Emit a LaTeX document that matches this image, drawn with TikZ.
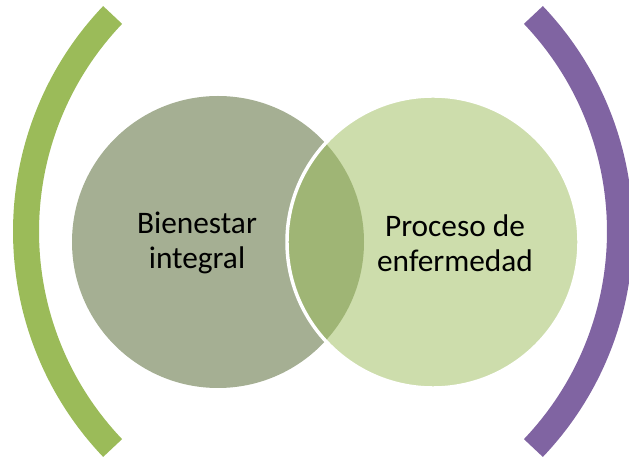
\documentclass[tikz,border=0pt]{standalone}
\usepackage{fontspec}
\setmainfont{Carlito}
\definecolor{leftfill}{HTML}{A5AF93}
\definecolor{rightfill}{HTML}{9BBB59}
\definecolor{arcgreen}{HTML}{9BBB59}
\definecolor{arcpurple}{HTML}{8064A2}
\begin{document}
\begin{tikzpicture}[x=0.75pt,y=-0.75pt,
  bigcircle/.style={circle,minimum size=219pt,inner sep=0pt},
  label text/.style={align=center,font=\fontsize{23.5}{26.5}\selectfont,text=black},
  bracket/.style={line width=19.5pt,line cap=butt}]
\useasboundingbox (0,0) rectangle (629,463);
\clip (0,0) rectangle (629,463);
% brackets
\draw[bracket,arcgreen] (340,231.5) ++(136.4:314) arc[start angle=136.4,end angle=223.6,radius=314];
\draw[bracket,arcpurple] (306,231.5) ++(43.6:314) arc[start angle=43.6,end angle=-43.6,radius=314];
% circles
\node[bigcircle,fill=leftfill] (bien) at (218,242) {};
\node[bigcircle,fill=rightfill,fill opacity=0.5,draw=white,line width=2.6pt] (proc) at (433,242) {};
% texts
\node[label text] (tbien) at (197,243) {Bienestar\\integral};
\node[label text] (tproc) at (455,243) {Proceso de\\enfermedad};
\end{tikzpicture}
\end{document}
